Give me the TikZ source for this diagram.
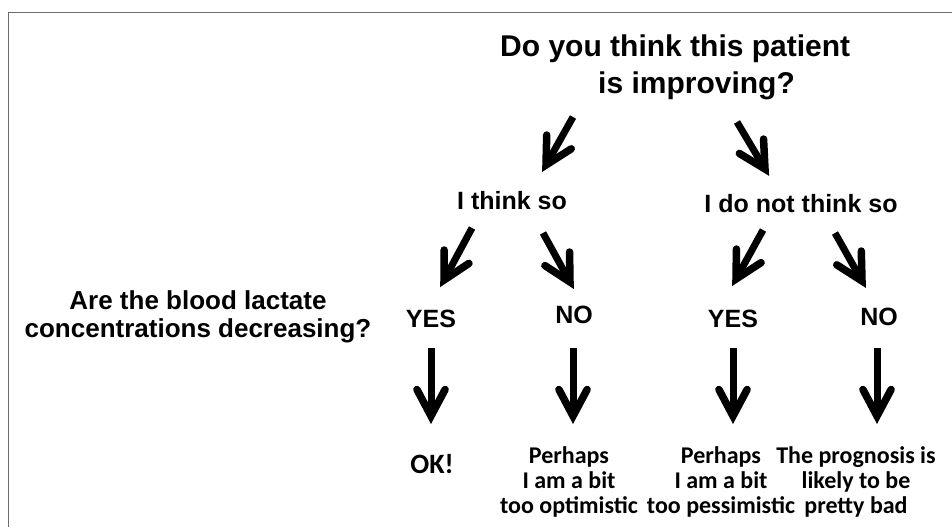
\documentclass[tikz,border=0pt]{standalone}
\usepackage{fontspec}
\setmainfont{Liberation Sans}
\newfontfamily\calfont{Carlito}
\usetikzlibrary{calc}
\begin{document}
\begin{tikzpicture}[x=1pt,y=-1pt,
  lbl/.style={font=\fontsize{25}{28}\selectfont\bfseries, inner sep=0pt, align=center},
  ttl/.style={font=\fontsize{30}{37}\selectfont\bfseries, inner sep=0pt, align=left},
  ans/.style={font=\calfont\fontsize{24}{25}\selectfont\bfseries, inner sep=0pt, align=center},
  shaft/.style={line width=7pt},
  barb/.style={line width=7.5pt, line join=miter, miter limit=10, line cap=round},
  frame/.style={draw=black!58, line width=1.5pt}]
\useasboundingbox (0,0) rectangle (952,527);
\draw[frame] (952,12.5) -- (8.5,12.5) -- (8.5,527);
% texts
\node[ttl, anchor=base west] (q) at (500,93) {Do you think this patient\\\hspace*{98pt}is improving?};
\node[lbl, anchor=base] (yes1) at (512,209) {I think so};
\node[lbl, anchor=base] (no1) at (801,212) {I do not think so};
\node[lbl, anchor=base, font=\fontsize{26}{28}\selectfont\bfseries] (lac) at (198,337) {Are the blood lactate\\concentrations decreasing?};
\node[lbl, anchor=base] (y1) at (431,327) {YES};
\node[lbl, anchor=base] (n1) at (574,323) {NO};
\node[lbl, anchor=base] (y2) at (733,327) {YES};
\node[lbl, anchor=base] (n2) at (879,325) {NO};
\node[ans, anchor=base, font=\calfont\fontsize{28}{30}\selectfont\bfseries] (ok) at (432,473) {OK!};
\node[ans, anchor=base] (opt) at (569,513) {Perhaps\\I am a bit\\too optimistic};
\node[ans, anchor=base] (pes) at (721,513) {Perhaps\\I am a bit\\too pessimistic};
\node[ans, anchor=base] (bad) at (856,513) {The prognosis is\\likely to be\\pretty bad};
% arrow ends
\coordinate (a1s) at (573,117); \coordinate (a1e) at (546,165);
\coordinate (a2s) at (737,122); \coordinate (a2e) at (765,169);
\coordinate (b1s) at (472,228); \coordinate (b1e) at (444,280);
\coordinate (b2s) at (543,233); \coordinate (b2e) at (570,282);
\coordinate (b3s) at (763,230); \coordinate (b3e) at (736,279);
\coordinate (b4s) at (835,233); \coordinate (b4e) at (862,281);
\coordinate (c1s) at (431,348); \coordinate (c1e) at (431,416);
\coordinate (c2s) at (573,348); \coordinate (c2e) at (573,416);
\coordinate (c3s) at (733,348); \coordinate (c3e) at (733,416);
\coordinate (c4s) at (877,348); \coordinate (c4e) at (877,416);
\foreach \p in {a1,a2,b1,b2,b3,b4,c1,c2,c3,c4}{
  \draw[shaft] (\p s) -- ($(\p e)!3pt!(\p s)$);
  \draw[barb] ($(\p e)!30pt!28:(\p s)$) -- (\p e) -- ($(\p e)!30pt!-28:(\p s)$);
}
\end{tikzpicture}
\end{document}
